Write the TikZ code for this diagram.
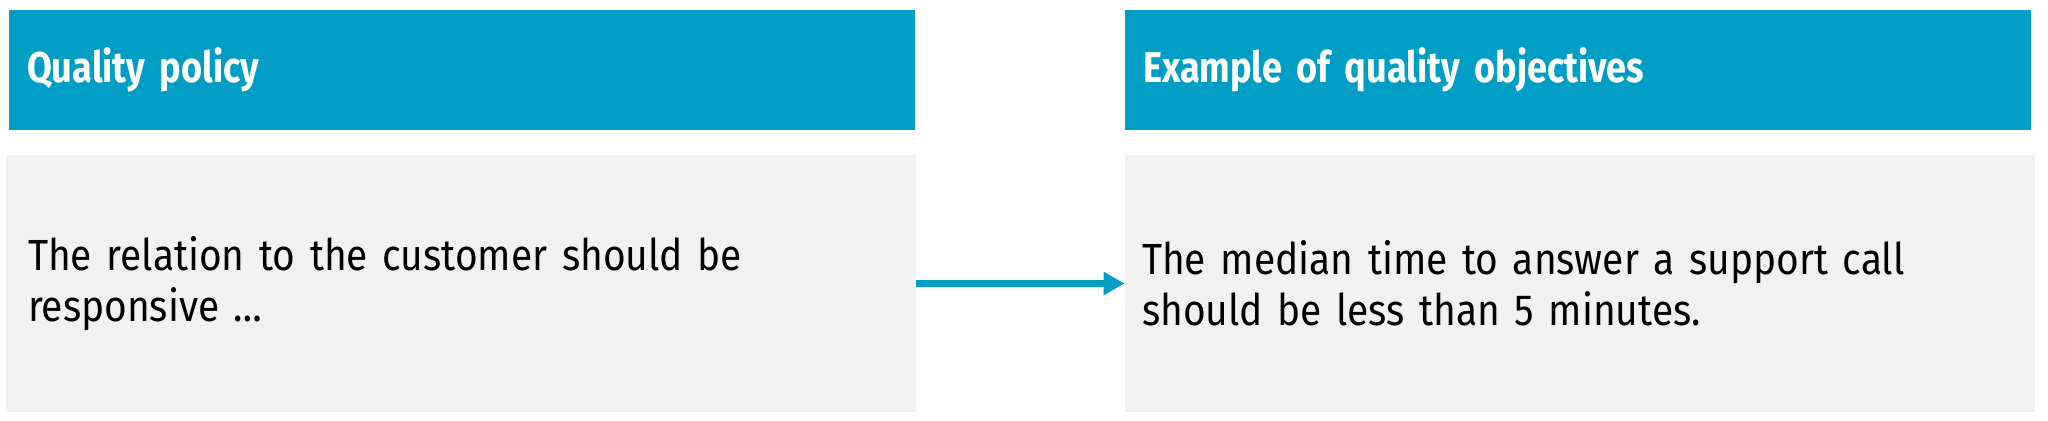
\documentclass[tikz,border=0pt]{standalone}
\usepackage{fontspec}
\usetikzlibrary{arrows.meta}
\newfontfamily\headfont[FakeStretch=0.84]{Fira Sans}
\newfontfamily\bodyfont[FakeStretch=0.893]{Fira Sans}
\definecolor{qblue}{RGB}{0,157,196}
\definecolor{qgray}{RGB}{241,241,241}
\tikzset{
  headbox/.style={fill=qblue, minimum width=453pt, minimum height=60pt, inner xsep=9pt, text width=435pt, align=left, text=white, font=\headfont\bfseries\fontsize{21.5}{25}\selectfont},
  bodybox/.style={fill=qgray, minimum width=455pt, minimum height=128.5pt, inner xsep=10pt, text width=435pt, align=left, text=black, font=\bodyfont\fontsize{21.8}{25.5}\selectfont},
  link/.style={draw=qblue, line width=3.5pt, -{Triangle[length=10.5pt,width=11pt]}}
}
\begin{document}
\begin{tikzpicture}[x=0.5pt,y=-0.5pt]
\useasboundingbox (0,0) rectangle (2048,420);
\node[headbox] (lh) at (462,70) {\raisebox{-2.5pt}{Quality policy}};
\node[headbox] (rh) at (1578,70) {\raisebox{-2.5pt}{Example of quality objectives}};
\node[bodybox, inner xsep=11pt, text width=433pt] (lb) at (461,283.5) {The relation to the customer should be\\responsive \dots};
\node[bodybox, inner xsep=8.5pt, text width=438pt] (rb) at (1580,283.5) {The median time to answer a support call\\should be less than 5 minutes.};
\draw[link] (lb.east) -- (rb.west);
\end{tikzpicture}
\end{document}
